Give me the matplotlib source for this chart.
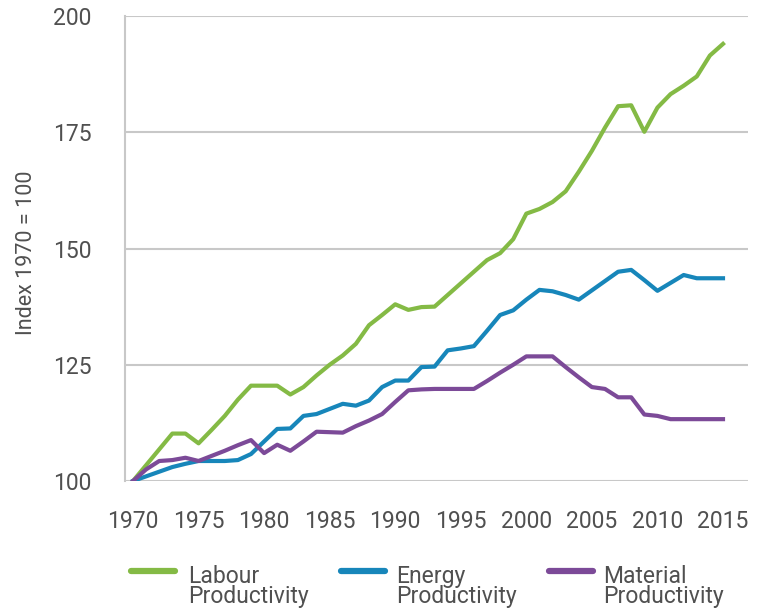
import matplotlib
matplotlib.use("Agg")
import matplotlib.pyplot as plt
from matplotlib.lines import Line2D

years = list(range(1970, 2016))

labour = [100, 103.4, 106.8, 110.2, 110.2, 108.1, 111.0, 114.0, 117.5, 120.5,
          120.5, 120.5, 118.6, 120.2, 122.7, 125.0, 127.0, 129.5, 133.5, 135.7,
          138.0, 136.8, 137.4, 137.5, 140.0, 142.5, 145.0, 147.5, 149.0, 152.0,
          157.5, 158.5, 160.0, 162.3, 166.5, 171.0, 176.0, 180.6, 180.8, 175.1,
          180.3, 183.2, 185.0, 187.0, 191.5, 194.0]

energy = [100, 101.0, 102.0, 103.0, 103.7, 104.3, 104.3, 104.3, 104.5, 105.8,
          108.5, 111.2, 111.3, 114.0, 114.4, 115.5, 116.6, 116.2, 117.3, 120.2,
          121.6, 121.6, 124.5, 124.6, 128.1, 128.5, 129.0, 132.3, 135.7, 136.7,
          139.0, 141.1, 140.8, 140.0, 139.0, 141.0, 143.0, 145.0, 145.4, 143.2,
          140.9, 142.6, 144.3, 143.6, 143.6, 143.6]

material = [100, 102.5, 104.3, 104.5, 105.0, 104.3, 105.4, 106.5, 107.7, 108.8,
            106.0, 107.8, 106.5, 108.5, 110.6, 110.5, 110.4, 111.8, 113.0, 114.4,
            117.0, 119.5, 119.7, 119.8, 119.8, 119.8, 119.8, 121.5, 123.3, 125.0,
            126.8, 126.8, 126.8, 124.5, 122.3, 120.2, 119.8, 118.0, 118.0, 114.3,
            114.0, 113.3, 113.3, 113.3, 113.3, 113.3]

series_names = ["Labour\nProductivity", "Energy\nProductivity", "Material\nProductivity"]
colors = ["#84ba45", "#1786ba", "#7c4a98"]

x_ticks = list(range(1970, 2016, 5))
y_ticks = [100, 125, 150, 175, 200]

plt.rcParams['font.family'] = ['Roboto', 'DejaVu Sans']
text_color = "#505050"
grid_color = "#c8c8c8"

fig = plt.figure(figsize=(7.59, 6.10), dpi=100)
W, H = 759, 610
ax = fig.add_axes([125 / W, 1 - 481 / H, (748 - 125) / W, (481 - 16) / H])

for vals, c in zip([labour, energy, material], colors):
    ax.plot(years, vals, color=c, lw=3.0, solid_joinstyle='round', zorder=3)

ax.set_xlim(1970 - 8 / 13.11, 2015 + 25 / 13.11)
ax.set_ylim(100, 200)
ax.set_xticks(x_ticks)
ax.set_yticks(y_ticks)
ax.yaxis.grid(True, color=grid_color, lw=1.5)
ax.set_axisbelow(True)
for s in ["top", "right", "bottom"]:
    ax.spines[s].set_visible(False)
ax.spines["left"].set_color(grid_color)
ax.spines["left"].set_linewidth(1.5)
ax.tick_params(axis='both', length=0, labelsize=16.5, colors=text_color)
ax.tick_params(axis='y', pad=24)
ax.tick_params(axis='x', pad=21)

fig.text(27 / W, 1 - 253 / H, "Index 1970 = 100", rotation=90, fontsize=15.5,
         color=text_color, ha='center', va='center')

# legend (manual layout)
handle_x = [(131, 175), (341, 385), (549, 593)]
text_x = [188, 396, 603]
for (x0, x1), tx, c, name in zip(handle_x, text_x, colors, series_names):
    fig.add_artist(Line2D([x0 / W, x1 / W], [1 - 571 / H, 1 - 571 / H],
                          transform=fig.transFigure, color=c, lw=4.5,
                          solid_capstyle='round'))
    fig.text(tx / W, 1 - 603 / H, name, fontsize=16.5, color=text_color,
             va='baseline', ha='left', linespacing=0.85)

fig.savefig("out.png", dpi=100)
